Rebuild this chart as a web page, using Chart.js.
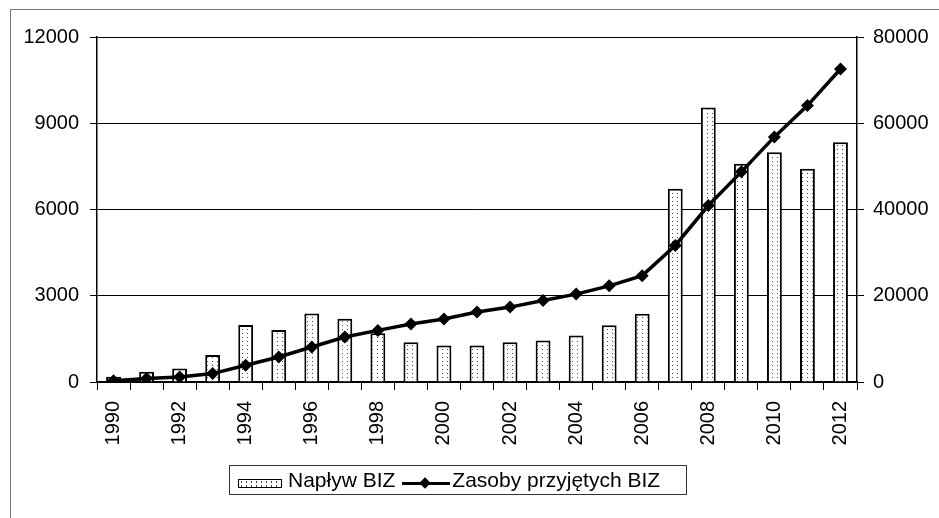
<!DOCTYPE html>
<html>
<head>
<meta charset="utf-8">
<script src="https://cdn.jsdelivr.net/npm/chart.js@4"></script>
<style>
  body { margin: 0; background: #fff; font-family: "Liberation Sans", Arial, sans-serif; }
  #wrap { position: relative; width: 939px; height: 518px; overflow: hidden; }
  #chart { position: absolute; left: 0; top: 0; }
  .frame-top { position: absolute; left: 10px; top: 9px; width: 940px; height: 0; border-top: 1px solid #777; }
  .frame-left { position: absolute; left: 10px; top: 9px; width: 0; height: 520px; border-left: 1px solid #777; }
  #legend {
    position: absolute; left: 229px; top: 465px; width: 456px; height: 28px;
    border: 1px solid #333; display: flex; align-items: center; font-size: 21px; color: #000;
  }
  .sw-bar {
    width: 42px; height: 7px; margin-left: 8px; margin-right: 6px; margin-top: 6px;
    border: 1px solid #000; background-color: #fff;
    background-image: radial-gradient(circle, #444 0.7px, transparent 1px);
    background-size: 5px 4px;
  }
  .sw-line { position: relative; width: 48px; height: 20px; margin-left: 7px; margin-right: 2px; }
  .sw-line .ln { position: absolute; left: 0; right: 0; top: 12px; height: 3px; background: #000; }
  .sw-line .dm { position: absolute; left: 19px; top: 9px; width: 8px; height: 8px; background: #000; transform: rotate(45deg); }
</style>
</head>
<body>
<div id="wrap">
  <canvas id="chart" width="939" height="518"></canvas>
  <div class="frame-top"></div>
  <div class="frame-left"></div>
  <div id="legend">
    <span class="sw-bar"></span><span>Napływ BIZ</span>
    <span class="sw-line"><span class="ln"></span><span class="dm"></span></span><span>Zasoby przyjętych BIZ</span>
  </div>
</div>
<script>
const years = ['1990','1991','1992','1993','1994','1995','1996','1997','1998','1999','2000','2001',
               '2002','2003','2004','2005','2006','2007','2008','2009','2010','2011','2012'];
// Napływ BIZ (left axis)
const inflow = [180, 360, 470, 940, 1980, 1810, 2380, 2200, 1700, 1380, 1270, 1270,
                1380, 1440, 1620, 1970, 2370, 6720, 9550, 7590, 7990, 7420, 8340];
// Zasoby przyjętych BIZ (right axis)
const stock = [300, 800, 1160, 1950, 3870, 5790, 8110, 10420, 11970, 13430, 14590, 16210,
               17370, 18900, 20380, 22300, 24660, 31660, 40920, 48730, 56840, 64090, 72580];
const leftTicks = [0, 3000, 6000, 9000, 12000];
const rightTicks = [0, 20000, 40000, 60000, 80000];

// dotted fill like the original
function dotPattern() {
    const c = document.createElement('canvas');
    c.width = 5; c.height = 4;
    const g = c.getContext('2d');
    g.fillStyle = '#fff';
    g.fillRect(0, 0, 5, 4);
    g.fillStyle = '#444';
    g.fillRect(2, 1, 1, 1);
    return g.createPattern(c, 'repeat');
}

const font = { family: '"Liberation Sans", Arial, sans-serif', size: 20 };
const plain = v => String(v);

new Chart(document.getElementById('chart'), {
    data: {
        labels: years,
        datasets: [
            {
                type: 'line',
                label: 'Zasoby przyjętych BIZ',
                data: stock,
                yAxisID: 'y1',
                order: 0,
                borderColor: '#000',
                backgroundColor: '#000',
                borderWidth: 3.5,
                pointStyle: 'rectRot',
                pointRadius: 6.5,
                pointBorderWidth: 0,
                tension: 0
            },
            {
                type: 'bar',
                label: 'Napływ BIZ',
                data: inflow,
                yAxisID: 'y',
                order: 1,
                backgroundColor: dotPattern(),
                borderColor: '#000',
                borderWidth: 2,
                barPercentage: 0.45,
                categoryPercentage: 1
            }
        ]
    },
    options: {
        responsive: false,
        animation: false,
        layout: { padding: { top: 37, left: 0, right: 0, bottom: 0 } },
        plugins: { legend: { display: false }, tooltip: { enabled: false } },
        scales: {
            x: {
                offset: true,
                grid: { offset: true, drawOnChartArea: false, color: '#000', tickLength: 8 },
                border: { color: '#000', width: 1.5 },
                ticks: {
                    autoSkip: false, minRotation: 90, maxRotation: 90, padding: 11,
                    color: '#000', font: font,
                    callback: (v, i) => (i % 2 === 0 ? years[i] : '')
                },
                afterFit: s => { s.height = 136; }
            },
            y: {
                position: 'left',
                min: 0, max: 12000,
                afterBuildTicks: s => { s.ticks = leftTicks.map(v => ({ value: v })); },
                grid: { color: '#000', lineWidth: 1, tickLength: 7 },
                border: { color: '#000', width: 1.5 },
                ticks: { color: '#000', font: font, padding: 11, callback: plain },
                afterFit: s => { s.width = 97; }
            },
            y1: {
                position: 'right',
                min: 0, max: 80000,
                afterBuildTicks: s => { s.ticks = rightTicks.map(v => ({ value: v })); },
                grid: { drawOnChartArea: false, color: '#000', tickLength: 7 },
                border: { color: '#000', width: 1.5 },
                ticks: { color: '#000', font: font, padding: 9, callback: plain },
                afterFit: s => { s.width = 82; }
            }
        }
    }
});
</script>
</body>
</html>
